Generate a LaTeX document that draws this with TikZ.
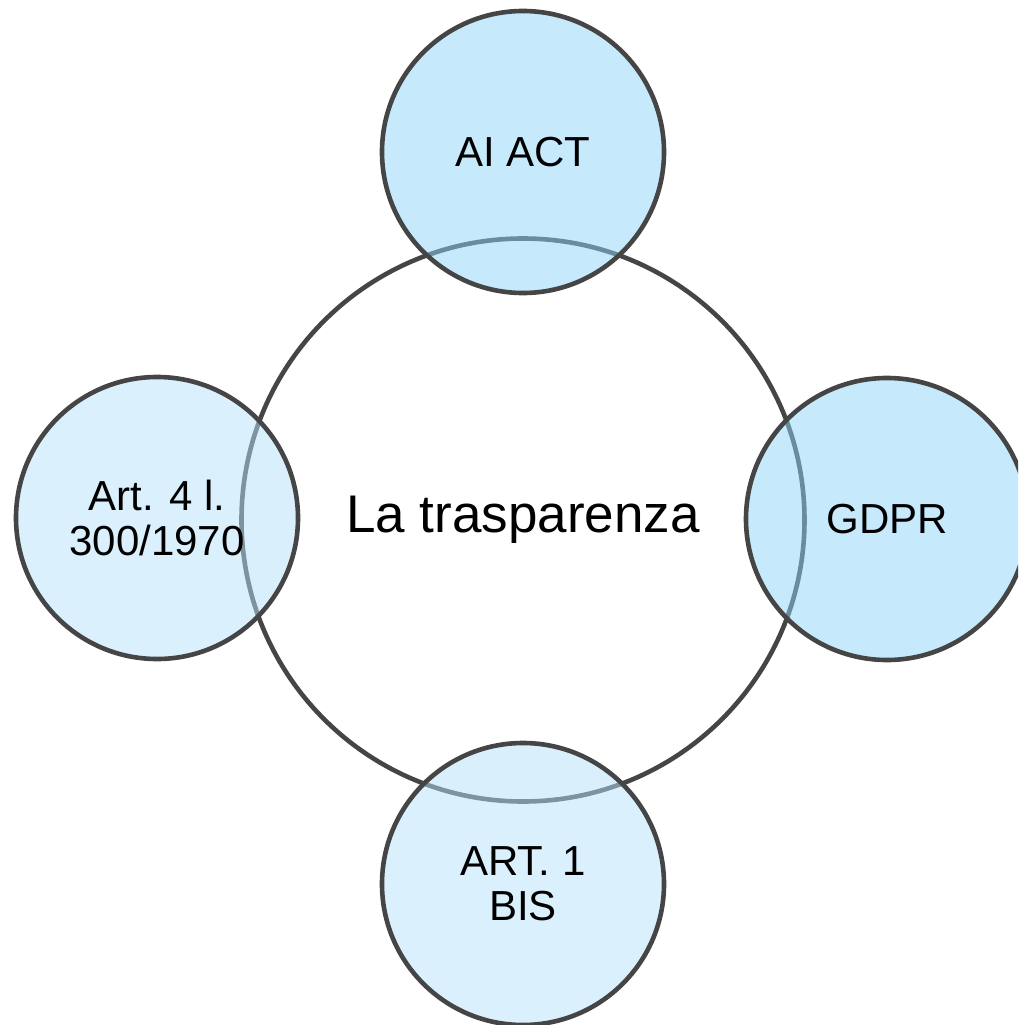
\documentclass[tikz,border=0pt]{standalone}
\usepackage{fontspec}
\setmainfont{Liberation Sans}
\definecolor{edge}{HTML}{454545}
\definecolor{deepblue}{RGB}{142,212,249}
\definecolor{paleblue}{RGB}{181,227,251}
\begin{document}
\begin{tikzpicture}[x=1pt,y=-1pt,
  ring/.style={circle, draw=edge, line width=4.6pt, inner sep=0pt, align=center, text=black},
  sat/.style={ring, minimum size=282pt, fill opacity=0.5, text opacity=1,
    font=\fontsize{42}{45}\selectfont},
  hub/.style={ring, minimum size=563pt, fill=white, font=\fontsize{53}{60}\selectfont}]
\useasboundingbox (0,0) rectangle (1018,1025);
\clip (0,0) rectangle (1018,1025);
% central topic
\node[hub] (core) at (523,520) {La trasparenza};
% surrounding sources
\node[sat, fill=deepblue] (ai) at (523,152) {AI ACT};
\node[sat, fill=deepblue] (gdpr) at (887,519) {GDPR};
\node[sat, fill=paleblue] (art4) at (157,518) {Art. 4 l.\\300/1970};
\node[sat, fill=paleblue] (art1) at (523,884) {ART. 1\\BIS};
\end{tikzpicture}
\end{document}
